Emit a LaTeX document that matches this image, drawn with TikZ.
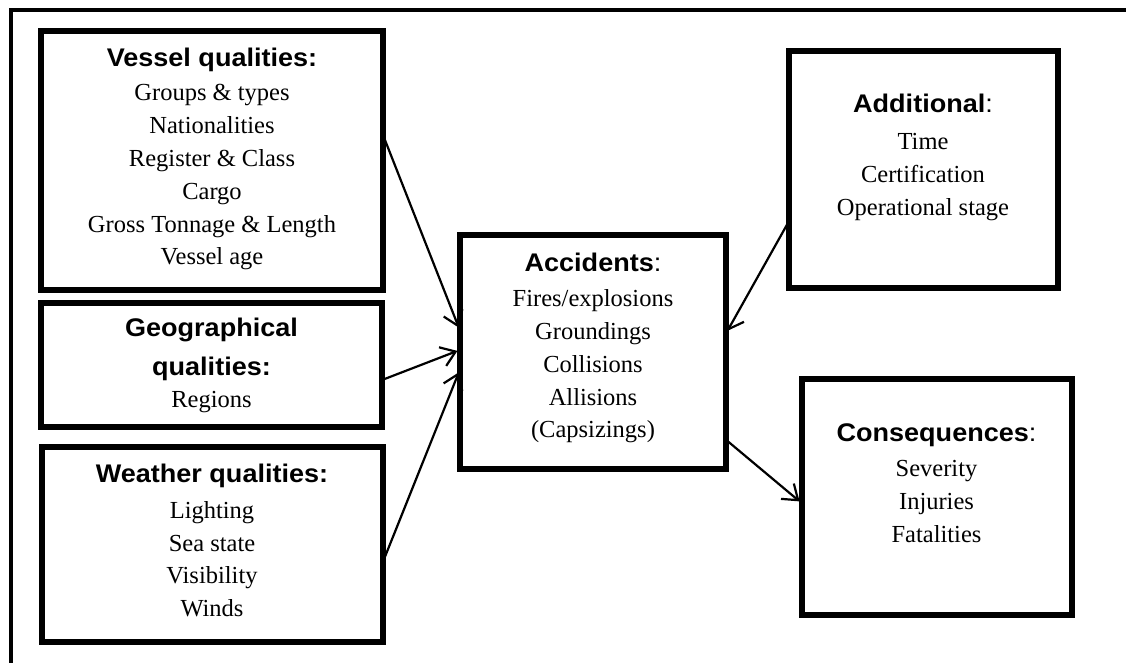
\documentclass[tikz,border=0pt]{standalone}
\usepackage{fontspec}
\setmainfont{Liberation Serif}
\newfontfamily\hdfont[FakeStretch=1.06]{Liberation Sans}
\usetikzlibrary{arrows.meta}
\newcommand{\hdb}[1]{{\hdfont\bfseries\fontsize{25.5}{32.8}\selectfont #1}}
\newcommand{\hdr}[1]{{\hdfont\fontsize{25.5}{32.8}\selectfont #1}}
\begin{document}
\begin{tikzpicture}[x=1pt,y=-1pt,
  box/.style={draw, line width=6pt, inner sep=0pt, outer sep=0pt},
  txt/.style={anchor=base, inner sep=0pt, outer sep=0pt, font=\fontsize{24.5}{32.8}\selectfont},
  arr/.style={line width=2.2pt, shorten >=2.5pt, -{Straight Barb[length=14pt,width=20pt,line width=2.2pt]}}]
\useasboundingbox (0,0) rectangle (1126,663);
\fill[white] (0,0) rectangle (1126,663);
% outer frame (top and left only)
\draw[line width=4pt] (10.5,663) -- (10.5,10) -- (1126,10);

% boxes
\node[box, minimum width=342pt, minimum height=259pt] (vessel) at (212,160.5) {};
\node[box, minimum width=341pt, minimum height=124pt] (geo) at (211.5,364.5) {};
\node[box, minimum width=341pt, minimum height=195pt] (weather) at (212,544) {};
\node[box, minimum width=266.5pt, minimum height=233.5pt] (acc) at (593,351.75) {};
\node[box, minimum width=269pt, minimum height=236.5pt] (add) at (923,169.75) {};
\node[box, minimum width=270pt, minimum height=235.5pt] (cons) at (936.5,496.75) {};

% texts
\node[txt] (vesseltxt) at (212,67) {\parbox[t]{330pt}{\centering
  \hdb{Vessel qualities:}\\[1.2pt]
  Groups \& types\\ Nationalities\\ Register \& Class\\ Cargo\\
  Gross Tonnage \& Length\\ Vessel age}};
\node[txt] (geotxt) at (211.5,336.7) {\parbox[t]{330pt}{\centering
  \hdb{Geographical}\\[5.5pt]
  \hdb{qualities:}\\
  Regions}};
\node[txt] (weathertxt) at (212,482) {\parbox[t]{330pt}{\centering
  \hdb{Weather qualities:}\\[3.5pt]
  Lighting\\ Sea state\\ Visibility\\ Winds}};
\node[txt] (acctxt) at (593,271.7) {\parbox[t]{255pt}{\centering
  \hdb{Accidents}\hdr{:}\\[2.2pt]
  Fires/explosions\\ Groundings\\ Collisions\\ Allisions\\ (Capsizings)}};
\node[txt] (addtxt) at (923,113) {\parbox[t]{255pt}{\centering
  \hdb{Additional}\hdr{:}\\[4pt]
  Time\\ Certification\\ Operational stage}};
\node[txt] (constxt) at (936.5,441.7) {\parbox[t]{255pt}{\centering
  \hdb{Consequences}\hdr{:}\\[2.2pt]
  Severity\\ Injuries\\ Fatalities}};

% connectors
\draw[arr] ([yshift=25.5pt]vessel.east) -- ([yshift=21.75pt]acc.west);
\draw[arr] ([yshift=-15.5pt]geo.east) -- ([yshift=1.75pt]acc.west);
\draw[arr] ([yshift=-19pt]weather.east) -- ([yshift=-18.25pt]acc.west);
\draw[arr] ([yshift=-52.25pt]add.west) -- ([yshift=18.75pt]acc.east);
\draw[arr] ([yshift=-88.25pt]acc.east) -- ([yshift=-6.25pt]cons.west);
\end{tikzpicture}
\end{document}
